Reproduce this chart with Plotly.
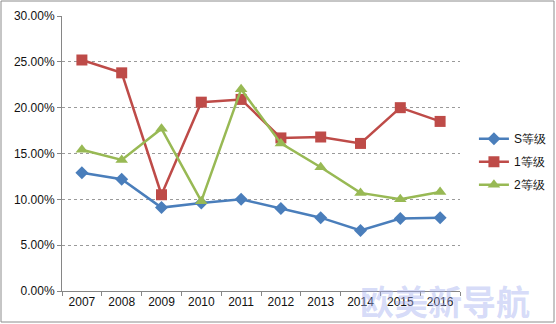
import plotly.graph_objects as go

years = ["2007", "2008", "2009", "2010", "2011", "2012", "2013", "2014", "2015", "2016"]
s_grade = [12.9, 12.2, 9.1, 9.6, 10.0, 9.0, 8.0, 6.6, 7.9, 8.0]
grade1 = [25.2, 23.8, 10.5, 20.6, 20.9, 16.7, 16.8, 16.1, 20.0, 18.5]
grade2 = [15.4, 14.3, 17.7, 9.8, 22.0, 16.1, 13.5, 10.7, 10.0, 10.8]
names = ["S等级", "1等级", "2等级"]
y_ticks = [0, 5, 10, 15, 20, 25, 30]

fig = go.Figure()
series = [
    (s_grade, names[0], "#4A7EBB", "diamond", 10),
    (grade1, names[1], "#BE4B48", "square", 11),
    (grade2, names[2], "#98B954", "triangle-up", 11),
]
for i, (vals, nm, col, sym, sz) in enumerate(series):
    fig.add_trace(go.Scatter(
        x=years, y=[v / 100 for v in vals], name=nm, mode="lines+markers",
        line=dict(color=col, width=2.5),
        marker=dict(symbol=sym, size=sz, color=col, line=dict(width=0)),
        legendgroup=f"g{i}",
    ))

fig.update_layout(
    width=556, height=324,
    margin=dict(l=62, r=96, t=16, b=33, autoexpand=False),
    paper_bgcolor="white", plot_bgcolor="white",
    font=dict(family="Liberation Sans", size=12, color="#111111"),
    showlegend=True,
    legend=dict(x=1.035, y=0.47, yanchor="middle", xanchor="left",
                tracegroupgap=4, font=dict(size=12, color="#111111"),
                bgcolor="rgba(0,0,0,0)", itemwidth=30),
    xaxis=dict(type="category", range=[-0.5, len(years) - 0.5],
               showgrid=False, showline=True,
               linecolor="#868686", linewidth=1, ticks="outside",
               tickson="boundaries", ticklen=4, tickcolor="#868686",
               automargin=False, fixedrange=True),
    yaxis=dict(range=[0, 0.30], tickvals=[v / 100 for v in y_ticks],
               tickformat=".2%", showgrid=True, gridcolor="#9a9a9a",
               griddash="dot", gridwidth=1, showline=True,
               linecolor="#868686", linewidth=1, ticks="outside",
               ticklen=4, tickcolor="#868686", zeroline=False,
               automargin=False, fixedrange=True),
    annotations=[dict(text="<b>欧美新导航</b>", xref="paper", yref="paper",
                      x=(445 - 62) / 398, y=(291 - 300) / 275,
                      xanchor="center", yanchor="middle",
                      showarrow=False,
                      font=dict(family="Noto Sans CJK SC", size=34,
                                color="rgba(165,175,240,0.45)"))],
    shapes=[dict(type="rect", xref="paper", yref="paper",
                 x0=(1 - 62) / 398, x1=(554 - 62) / 398,
                 y0=(291 - 322) / 275, y1=(291 - 1) / 275,
                 line=dict(color="#8c8c8c", width=1), layer="below")],
)

fig.write_html("out.html")
